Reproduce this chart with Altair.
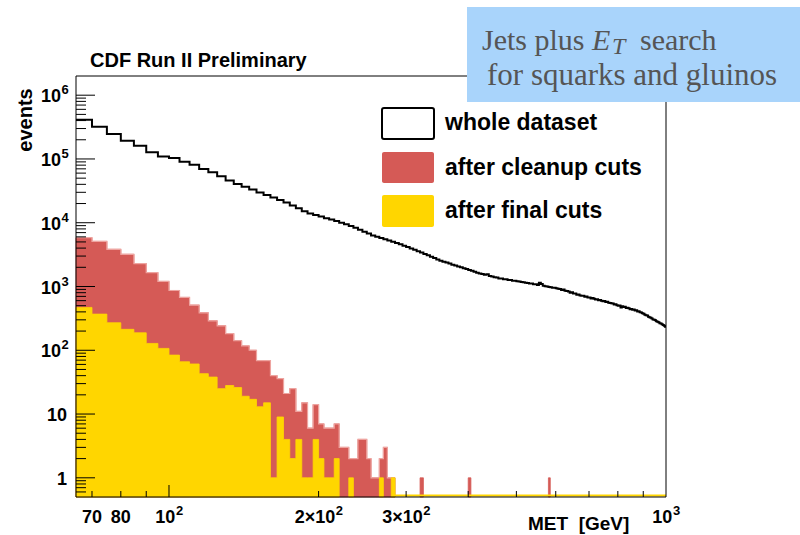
import altair as alt
import pandas as pd

# ---------------- data ----------------
BIN_START = 65      # GeV, lower edge of first bin
BIN_WIDTH = 5       # GeV
X_MAX = 1000

# whole dataset, bins 65..995 GeV
black_counts = [
    411000, 320000, 246000, 193000, 161000, 127000, 109000, 104000, 90700, 81400,
    69800, 61800, 53500, 45800, 40600, 36700, 33100, 29900, 27200, 24800,
    22700, 20700, 18700, 16800, 15100, 14000, 13200, 12500, 11800, 11200,
    10600, 10000, 9440, 8910, 8320, 7760, 7240, 6760, 6310, 6030,
    5750, 5510, 5260, 5020, 4820, 4590, 4370, 4160, 3950, 3760,
    3580, 3400, 3240, 3080, 2930, 2790, 2650, 2540, 2450, 2370,
    2290, 2200, 2130, 2050, 1995, 1930, 1875, 1815, 1760, 1705,
    1650, 1595, 1565, 1530, 1560, 1460, 1440, 1395, 1380, 1340,
    1330, 1300, 1295, 1270, 1260, 1235, 1230, 1205, 1200, 1175,
    1170, 1145, 1135, 1115, 1110, 1085, 1080, 1055, 1150, 1090,
    1030, 1005, 1000, 980, 975, 960, 955, 940, 925, 915,
    880, 895, 860, 850, 835, 800, 810, 780, 775, 745,
    750, 725, 715, 715, 690, 695, 670, 675, 650, 660,
    640, 625, 630, 610, 615, 600, 585, 590, 570, 575,
    555, 550, 545, 540, 520, 525, 510, 500, 505, 470,
    490, 475, 480, 460, 465, 455, 440, 445, 430, 435,
    420, 425, 405, 410, 395, 390, 380, 375, 360, 355,
    350, 335, 330, 325, 315, 305, 300, 295, 285, 280,
    275, 265, 262, 255, 248, 242, 233,
]

# after cleanup cuts, bins 65..280 GeV
red_counts = [
    5830, 5100, 3830, 3200, 2290, 1655, 1200, 866, 673, 510,
    387, 290, 242, 182, 141, 117, 100, 69, 69, 40,
    36, 21, 25, 11, 15, 6, 14, 7, 6, 6,
    7, 3, 3, 2, 2, 4, 4, 2, 1, 1,
    2, 3, 1, 1,
]
red_extra_bins = [320, 400, 580]
red_extra_counts = [1, 1, 1]

# after final cuts, bins 65..280 GeV
yellow_counts = [
    470, 369, 270, 213, 188, 128, 107, 84, 66, 61,
    43, 38, 25, 28, 26, 19, 17, 13, 15, 1,
    9, 4, 2, 4, 1, 1, 4, 2, 1, 1,
    2, 0, 0, 1, 0, 0, 0, 0, 0, 0,
    1, 0, 0, 1,
]

x_tick_values = [70, 80, 100, 200, 300, 1000]
x_label_base = ["70", "80", "10", "2×10", "3×10", "10"]
x_label_exp = ["", "", "2", "2", "2", "3"]
y_tick_values = [1, 10, 100, 1000, 10000, 100000, 1000000]
y_label_base = ["1", "10", "10", "10", "10", "10", "10"]
y_label_exp = ["", "", "2", "3", "4", "5", "6"]
x_minor_ticks = [70, 80, 90, 200, 300, 400, 500, 600, 700, 800, 900]
x_major_ticks = [100]
y_minor_ticks = [m * 10 ** k for k in range(-1, 7) for m in range(2, 10)
                 if 0.5 < m * 10 ** k < 2e6]

legend_labels = ["whole dataset", "after cleanup cuts", "after final cuts"]
title_text = "CDF Run II Preliminary"
y_title = "events"
x_title = "MET\u00a0 [GeV]"
box_line1 = ["Jets plus", "E", "T", "search"]
box_line2 = "for squarks and gluinos"

# ---------------- styling ----------------
W, H = 590, 421
Y_MIN, Y_MAX = 0.5, 2e6
RED = "#d55a56"
RED_EDGE = "#eea4a0"
YELLOW = "#ffd600"
BOX = "#a9d4fb"
BOX_TEXT = "#555555"
SANS = "Liberation Sans"
SERIF = "Liberation Serif"
LAB = 18   # tick label size
EXP = 13   # exponent size

xscale = alt.Scale(type="log", domain=[BIN_START, X_MAX], nice=False)
yscale = alt.Scale(type="log", domain=[Y_MIN, Y_MAX], nice=False)


def text_width(s, size):
    return sum((0.584 if c == "×" else 0.556) * size for c in s)


# ---------------- tables ----------------
def step_segments(los, counts):
    """Rows for step-after areas: one segment per run of non-empty bins."""
    rows, seg, prev_hi = [], -1, None
    for lo, c in zip(los, counts):
        if c <= 0:
            continue
        if prev_hi is None or lo != prev_hi:
            if prev_hi is not None:
                rows.append({"x": prev_hi, "v": rows[-1]["v"], "seg": seg, "base": Y_MIN})
            seg += 1
        rows.append({"x": lo, "v": c, "seg": seg, "base": Y_MIN})
        prev_hi = lo + BIN_WIDTH
    rows.append({"x": prev_hi, "v": rows[-1]["v"], "seg": seg, "base": Y_MIN})
    return pd.DataFrame(rows)


red_lo = [BIN_START + BIN_WIDTH * i for i in range(len(red_counts))]
red_df = step_segments(red_lo + red_extra_bins, red_counts + red_extra_counts)
yellow_df = step_segments(red_lo, yellow_counts)

black_lo = [BIN_START + BIN_WIDTH * i for i in range(len(black_counts))]
black_df = pd.DataFrame({"x": black_lo + [X_MAX], "v": black_counts + [black_counts[-1]]})

red_edge_df = pd.DataFrame({"x": red_lo + [red_lo[-1] + BIN_WIDTH],
                            "v": red_counts + [red_counts[-1]]})

last_yellow = max(lo for lo, c in zip(red_lo, yellow_counts) if c > 0) + BIN_WIDTH
zero_df = pd.DataFrame({"a": [last_yellow], "b": [X_MAX]})

yt_major = pd.DataFrame({"v": y_tick_values})
yt_minor = pd.DataFrame({"v": y_minor_ticks})
xt_major = pd.DataFrame({"v": x_major_ticks})
xt_minor = pd.DataFrame({"v": x_minor_ticks})

X = lambda f: alt.X(f, scale=xscale, axis=None)
Y = lambda f: alt.Y(f, scale=yscale, axis=None)

# ---------------- layers ----------------
red = alt.Chart(red_df).mark_area(color=RED, interpolate="step-after",
                                  stroke=RED, strokeWidth=0.8).encode(
    x=X("x:Q"), y=Y("v:Q"), y2="base:Q", detail="seg:N")
red_edge = alt.Chart(red_edge_df).mark_line(color=RED_EDGE, strokeWidth=1.2,
                                            interpolate="step-after").encode(
    x=X("x:Q"), y=Y("v:Q"))
yellow = alt.Chart(yellow_df).mark_area(color=YELLOW, interpolate="step-after",
                                        stroke=YELLOW, strokeWidth=0.8).encode(
    x=X("x:Q"), y=Y("v:Q"), y2="base:Q", detail="seg:N")
yellow_zero = alt.Chart(zero_df).mark_rule(color=YELLOW, strokeWidth=2).encode(
    x=X("a:Q"), x2="b:Q", y=alt.value(H - 1.5))
black = alt.Chart(black_df).mark_line(color="black", strokeWidth=2,
                                      interpolate="step-after").encode(
    x=X("x:Q"), y=Y("v:Q"))

ytick_major = alt.Chart(yt_major).mark_rule(color="black", strokeWidth=1).encode(
    y=Y("v:Q"), x=alt.value(0), x2=alt.value(19))
ytick_minor = alt.Chart(yt_minor).mark_rule(color="black", strokeWidth=1).encode(
    y=Y("v:Q"), x=alt.value(0), x2=alt.value(10))
xtick_major = alt.Chart(xt_major).mark_rule(color="black", strokeWidth=1).encode(
    x=X("v:Q"), y=alt.value(H), y2=alt.value(H - 12))
xtick_minor = alt.Chart(xt_minor).mark_rule(color="black", strokeWidth=1).encode(
    x=X("v:Q"), y=alt.value(H), y2=alt.value(H - 6))

one = pd.DataFrame({"k": [0]})
frame = alt.Chart(one).mark_rect(fillOpacity=0, stroke="black", strokeWidth=1).encode(
    x=alt.value(0), x2=alt.value(W), y=alt.value(0), y2=alt.value(H))

# tick labels (ROOT style, with raised exponents)
labels = []
for v, base, ex in zip(x_tick_values, x_label_base, x_label_exp):
    df = pd.DataFrame({"v": [v], "t": [base], "e": [ex]})
    bw = text_width(base, LAB)
    ew = text_width(ex, EXP) if ex else 0
    right = (bw + ew) / 2 - ew
    labels.append(alt.Chart(df).mark_text(
        font=SANS, fontWeight="bold", fontSize=LAB, align="right", baseline="alphabetic",
        dx=right, color="black").encode(x=X("v:Q"), y=alt.value(H + 26), text="t:N"))
    if ex:
        labels.append(alt.Chart(df).mark_text(
            font=SANS, fontWeight="bold", fontSize=EXP, align="left", baseline="alphabetic",
            dx=right + 0.5, color="black").encode(x=X("v:Q"), y=alt.value(H + 18), text="e:N"))

for v, base, ex in zip(y_tick_values, y_label_base, y_label_exp):
    df = pd.DataFrame({"v": [v], "t": [base], "e": [ex]})
    xr = -15 if ex else -9
    labels.append(alt.Chart(df).mark_text(
        font=SANS, fontWeight="bold", fontSize=LAB, align="right", baseline="alphabetic",
        dy=7, color="black").encode(x=alt.value(xr), y=Y("v:Q"), text="t:N"))
    if ex:
        labels.append(alt.Chart(df).mark_text(
            font=SANS, fontWeight="bold", fontSize=EXP, align="left", baseline="alphabetic",
            dy=-1, color="black").encode(x=alt.value(xr + 0.5), y=Y("v:Q"), text="e:N"))

# legend
leg = []
leg_fill = ["white", RED, YELLOW]
leg_y = [(32, 63), (76, 107), (119, 151)]
leg_text_y = [54, 99, 142]
for i, lab in enumerate(legend_labels):
    if i == 0:
        m = alt.Chart(one).mark_rect(fill="white", stroke="black", strokeWidth=2, cornerRadius=2)
    else:
        m = alt.Chart(one).mark_rect(fill=leg_fill[i], cornerRadius=2)
    leg.append(m.encode(x=alt.value(306), x2=alt.value(358),
                        y=alt.value(leg_y[i][0]), y2=alt.value(leg_y[i][1])))
    leg.append(alt.Chart(pd.DataFrame({"t": [lab]})).mark_text(
        font=SANS, fontWeight="bold", fontSize=23, align="left", baseline="alphabetic",
        color="black").encode(x=alt.value(369), y=alt.value(leg_text_y[i]), text="t:N"))

title = alt.Chart(pd.DataFrame({"t": [title_text]})).mark_text(
    font=SANS, fontWeight="bold", fontSize=20, align="left", baseline="alphabetic",
    color="black").encode(x=alt.value(14), y=alt.value(-9), text="t:N")
ytitle = alt.Chart(pd.DataFrame({"t": [y_title]})).mark_text(
    font=SANS, fontWeight="bold", fontSize=20, align="center", baseline="middle",
    angle=270, color="black").encode(x=alt.value(-50), y=alt.value(44), text="t:N")
xtitle = alt.Chart(pd.DataFrame({"t": [x_title]})).mark_text(
    font=SANS, fontWeight="bold", fontSize=19, align="left", baseline="alphabetic",
    color="black").encode(x=alt.value(452), y=alt.value(454), text="t:N")

box = alt.Chart(one).mark_rect(fill=BOX).encode(
    x=alt.value(391), x2=alt.value(724), y=alt.value(-69), y2=alt.value(26))


def box_text(t, x, y, size=31, style="normal"):
    return alt.Chart(pd.DataFrame({"t": [t]})).mark_text(
        font=SERIF, fontSize=size, fontStyle=style, align="left", baseline="alphabetic",
        color=BOX_TEXT).encode(x=alt.value(x), y=alt.value(y), text="t:N")


box_texts = [
    box_text(box_line1[0], 406, -26, size=30),
    box_text(box_line1[1], 516, -26, size=30, style="italic"),
    box_text(box_line1[2], 536, -22, size=24, style="italic"),
    box_text(box_line1[3], 564, -26, size=30),
    box_text(box_line2, 411, 9),
]

chart = alt.layer(
    red, red_edge, yellow, yellow_zero, black,
    ytick_major, ytick_minor, xtick_major, xtick_minor, frame,
    *labels, *leg, title, ytitle, xtitle, box, *box_texts,
).properties(
    width=W, height=H,
    padding={"left": 76, "top": 76, "right": 134, "bottom": 38},
    autosize=alt.AutoSizeParams(type="none"),
    background="white",
).configure_view(strokeWidth=0)

chart.save("out.html", embed_options={"renderer": "svg", "actions": False})
